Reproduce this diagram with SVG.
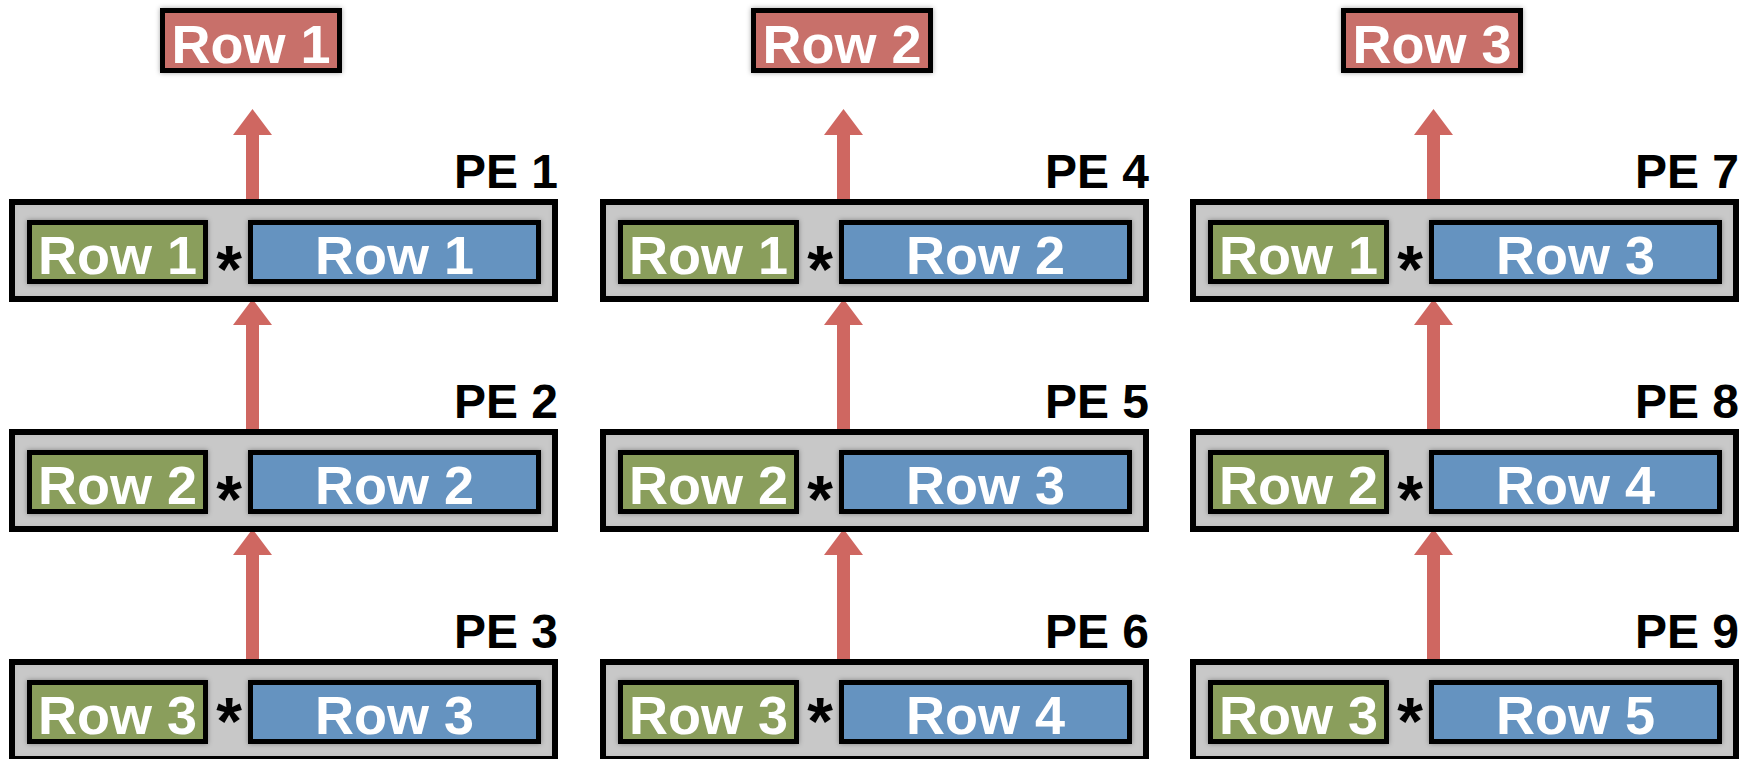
<svg xmlns="http://www.w3.org/2000/svg" width="1752" height="759" viewBox="0 0 1752 759">
<defs>
<style>
text{font-family:"Liberation Sans",Arial,sans-serif;font-weight:bold}
.pe{fill:#c8c8c8;stroke:none}
.peb{fill:none;stroke:#000;stroke-width:6}
.g{fill:#8a9e5c;stroke:#000;stroke-width:5}
.b{fill:#6593c0;stroke:#000;stroke-width:5}
.r{fill:#c86f6a;stroke:#000;stroke-width:5}
.w{fill:#fff;font-size:54px;text-anchor:middle}
.ast{fill:#000;font-size:66px;text-anchor:middle}
.lbl{fill:#000;font-size:48px;text-anchor:end}
.arr{fill:#cf6761}
</style>
<filter id="sh" x="-10%" y="-20%" width="120%" height="140%">
<feDropShadow dx="0" dy="0" stdDeviation="2.5" flood-color="#000" flood-opacity="0.35"/>
</filter>
<filter id="inset" x="-5%" y="-10%" width="110%" height="120%">
<feFlood flood-color="#000" flood-opacity="0.35"/>
<feComposite in2="SourceAlpha" operator="out"/>
<feGaussianBlur stdDeviation="3"/>
<feComposite in2="SourceAlpha" operator="in" result="s"/>
<feMerge><feMergeNode in="SourceGraphic"/><feMergeNode in="s"/></feMerge>
</filter>
<path id="arTop" class="arr" d="M246,135 L246,202 L259,202 L259,135 L272,135 L252.5,109 L233,135 Z"/>
<path id="arMid" class="arr" d="M246,325 L246,432 L259,432 L259,325 L272,325 L252.5,299 L233,325 Z"/>
</defs>

<g id="connectors">
<use href="#arTop" x="0" y="0"/>
<use href="#arMid" x="0" y="0"/>
<use href="#arMid" x="0" y="230"/>
<use href="#arTop" x="591" y="0"/>
<use href="#arMid" x="591" y="0"/>
<use href="#arMid" x="591" y="230"/>
<use href="#arTop" x="1181" y="0"/>
<use href="#arMid" x="1181" y="0"/>
<use href="#arMid" x="1181" y="230"/>
</g>

<g id="out1"><rect class="r" filter="url(#sh)" x="162.5" y="10.5" width="177" height="60"/><text class="w" x="251" y="63">Row 1</text></g>
<g id="out2" transform="translate(591,0)"><rect class="r" filter="url(#sh)" x="162.5" y="10.5" width="177" height="60"/><text class="w" x="251" y="63">Row 2</text></g>
<g id="out3" transform="translate(1181,0)"><rect class="r" filter="url(#sh)" x="162.5" y="10.5" width="177" height="60"/><text class="w" x="251" y="63">Row 3</text></g>

<g id="pe1" transform="translate(0,0)">
<rect class="pe" filter="url(#inset)" x="12" y="202" width="543" height="97"/><rect class="peb" x="12" y="202" width="543" height="97"/>
<rect class="g" filter="url(#sh)" x="29.5" y="222.5" width="176" height="59"/><text class="w" x="117.5" y="274">Row 1</text>
<text class="ast" x="229" y="292">*</text>
<rect class="b" filter="url(#sh)" x="250.5" y="222.5" width="288" height="59"/><text class="w" x="394.5" y="274">Row 1</text>
<text class="lbl" x="558" y="188">PE 1</text>
</g>
<g id="pe2" transform="translate(0,230)">
<rect class="pe" filter="url(#inset)" x="12" y="202" width="543" height="97"/><rect class="peb" x="12" y="202" width="543" height="97"/>
<rect class="g" filter="url(#sh)" x="29.5" y="222.5" width="176" height="59"/><text class="w" x="117.5" y="274">Row 2</text>
<text class="ast" x="229" y="292">*</text>
<rect class="b" filter="url(#sh)" x="250.5" y="222.5" width="288" height="59"/><text class="w" x="394.5" y="274">Row 2</text>
<text class="lbl" x="558" y="188">PE 2</text>
</g>
<g id="pe3" transform="translate(0,460)">
<rect class="pe" filter="url(#inset)" x="12" y="202" width="543" height="97"/><rect class="peb" x="12" y="202" width="543" height="97"/>
<rect class="g" filter="url(#sh)" x="29.5" y="222.5" width="176" height="59"/><text class="w" x="117.5" y="274">Row 3</text>
<text class="ast" x="229" y="284">*</text>
<rect class="b" filter="url(#sh)" x="250.5" y="222.5" width="288" height="59"/><text class="w" x="394.5" y="274">Row 3</text>
<text class="lbl" x="558" y="188">PE 3</text>
</g>

<g id="pe4" transform="translate(591,0)">
<rect class="pe" filter="url(#inset)" x="12" y="202" width="543" height="97"/><rect class="peb" x="12" y="202" width="543" height="97"/>
<rect class="g" filter="url(#sh)" x="29.5" y="222.5" width="176" height="59"/><text class="w" x="117.5" y="274">Row 1</text>
<text class="ast" x="229" y="292">*</text>
<rect class="b" filter="url(#sh)" x="250.5" y="222.5" width="288" height="59"/><text class="w" x="394.5" y="274">Row 2</text>
<text class="lbl" x="558" y="188">PE 4</text>
</g>
<g id="pe5" transform="translate(591,230)">
<rect class="pe" filter="url(#inset)" x="12" y="202" width="543" height="97"/><rect class="peb" x="12" y="202" width="543" height="97"/>
<rect class="g" filter="url(#sh)" x="29.5" y="222.5" width="176" height="59"/><text class="w" x="117.5" y="274">Row 2</text>
<text class="ast" x="229" y="292">*</text>
<rect class="b" filter="url(#sh)" x="250.5" y="222.5" width="288" height="59"/><text class="w" x="394.5" y="274">Row 3</text>
<text class="lbl" x="558" y="188">PE 5</text>
</g>
<g id="pe6" transform="translate(591,460)">
<rect class="pe" filter="url(#inset)" x="12" y="202" width="543" height="97"/><rect class="peb" x="12" y="202" width="543" height="97"/>
<rect class="g" filter="url(#sh)" x="29.5" y="222.5" width="176" height="59"/><text class="w" x="117.5" y="274">Row 3</text>
<text class="ast" x="229" y="284">*</text>
<rect class="b" filter="url(#sh)" x="250.5" y="222.5" width="288" height="59"/><text class="w" x="394.5" y="274">Row 4</text>
<text class="lbl" x="558" y="188">PE 6</text>
</g>

<g id="pe7" transform="translate(1181,0)">
<rect class="pe" filter="url(#inset)" x="12" y="202" width="543" height="97"/><rect class="peb" x="12" y="202" width="543" height="97"/>
<rect class="g" filter="url(#sh)" x="29.5" y="222.5" width="176" height="59"/><text class="w" x="117.5" y="274">Row 1</text>
<text class="ast" x="229" y="292">*</text>
<rect class="b" filter="url(#sh)" x="250.5" y="222.5" width="288" height="59"/><text class="w" x="394.5" y="274">Row 3</text>
<text class="lbl" x="558" y="188">PE 7</text>
</g>
<g id="pe8" transform="translate(1181,230)">
<rect class="pe" filter="url(#inset)" x="12" y="202" width="543" height="97"/><rect class="peb" x="12" y="202" width="543" height="97"/>
<rect class="g" filter="url(#sh)" x="29.5" y="222.5" width="176" height="59"/><text class="w" x="117.5" y="274">Row 2</text>
<text class="ast" x="229" y="292">*</text>
<rect class="b" filter="url(#sh)" x="250.5" y="222.5" width="288" height="59"/><text class="w" x="394.5" y="274">Row 4</text>
<text class="lbl" x="558" y="188">PE 8</text>
</g>
<g id="pe9" transform="translate(1181,460)">
<rect class="pe" filter="url(#inset)" x="12" y="202" width="543" height="97"/><rect class="peb" x="12" y="202" width="543" height="97"/>
<rect class="g" filter="url(#sh)" x="29.5" y="222.5" width="176" height="59"/><text class="w" x="117.5" y="274">Row 3</text>
<text class="ast" x="229" y="284">*</text>
<rect class="b" filter="url(#sh)" x="250.5" y="222.5" width="288" height="59"/><text class="w" x="394.5" y="274">Row 5</text>
<text class="lbl" x="558" y="188">PE 9</text>
</g>
</svg>
